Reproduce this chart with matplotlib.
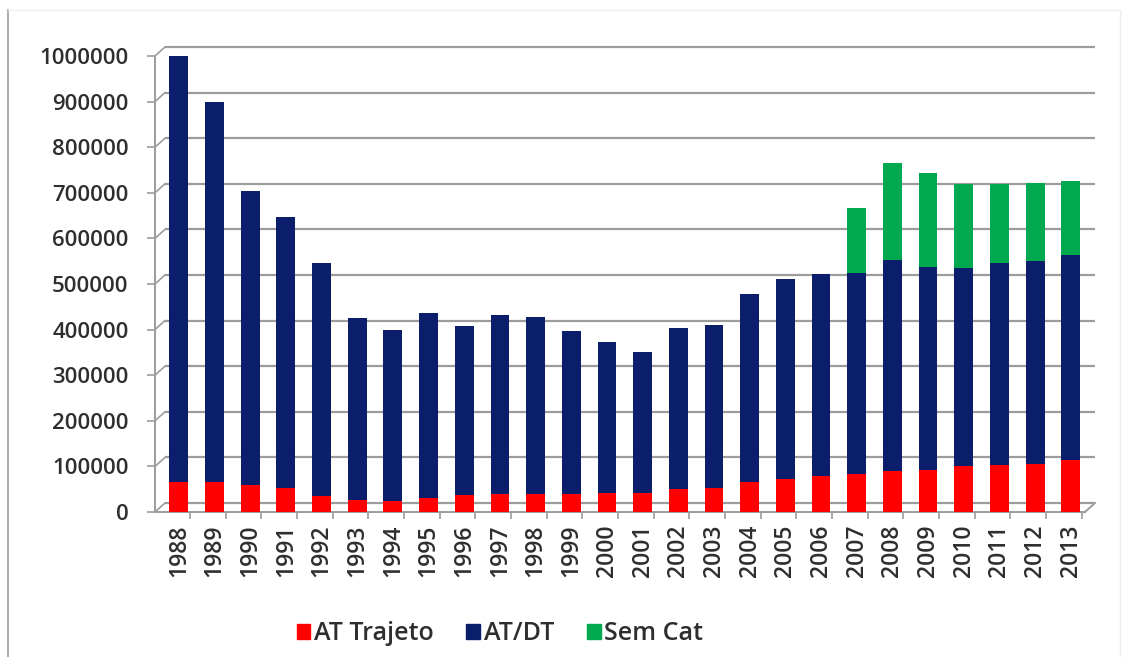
import matplotlib
matplotlib.use("Agg")
import matplotlib.pyplot as plt
from matplotlib.patches import Rectangle
from matplotlib.lines import Line2D
import numpy as np

years = [str(y) for y in range(1988, 2014)]
at_trajeto = [65000, 65000, 60000, 53000, 36000, 26000, 25000, 31000, 38000, 40000,
              39000, 40000, 42000, 42000, 50000, 53000, 65000, 73000, 78000, 83000,
              91000, 93000, 100000, 103000, 106000, 113000]
totals_atdt = [1000000, 900000, 704000, 646000, 547000, 425000, 400000, 436000, 408000, 433000,
               427000, 398000, 373000, 350000, 404000, 410000, 477000, 510000, 522000, 524000,
               553000, 538000, 535000, 545000, 550000, 563000]
totals_all = [1000000, 900000, 704000, 646000, 547000, 425000, 400000, 436000, 408000, 433000,
              427000, 398000, 373000, 350000, 404000, 410000, 477000, 510000, 522000, 667000,
              765000, 743000, 720000, 720000, 722000, 725000]
at_dt = [t - r for t, r in zip(totals_atdt, at_trajeto)]
sem_cat = [a - b for a, b in zip(totals_all, totals_atdt)]
yticks = list(range(0, 1000001, 100000))

RED = "#FF0000"
NAVY = "#0B1E6B"
GREEN = "#00A84F"
TXT = "#2e2e2e"
GRID = "#9c9c9c"

W, H = 1131, 657
fig = plt.figure(figsize=(W / 100, H / 100), dpi=100)
fig.patch.set_facecolor("white")
plt.rcParams["font.family"] = ["Open Sans", "DejaVu Sans"]
plt.rcParams["font.weight"] = "semibold"

# chart border
fig.add_artist(Line2D([8 / W, 8 / W], [0, 1 - 10 / H], color="#b0b0b0", lw=1.5))
fig.add_artist(Line2D([8 / W, 1120 / W], [1 - 10 / H, 1 - 10 / H], color="#eeeeee", lw=1))
fig.add_artist(Line2D([1120 / W, 1120 / W], [0, 1 - 10 / H], color="#eeeeee", lw=1))

x0, x1, y0, y1 = 155, 1085, 512, 56
ax = fig.add_axes([x0 / W, 1 - y0 / H, (x1 - x0) / W, (y0 - y1) / H])
ax.set_facecolor("none")

n = len(years)
x = np.arange(n)
xmin, xmax = -0.67, n - 0.6
ax.set_xlim(xmin, xmax)
ax.set_ylim(0, 1000000)

# 3D-like offsets (in data units)
px_x = (xmax - xmin) / (x1 - x0)
px_y = 1000000 / (y0 - y1)
dx, dy = 10 * px_x, 9 * px_y

for v in yticks:
    ax.plot([xmin + dx, xmax + dx], [v + dy, v + dy], color=GRID, lw=1.6,
            zorder=0, clip_on=False, solid_capstyle="butt")
    ax.plot([xmin, xmin + dx], [v, v + dy], color=GRID, lw=1.2, zorder=0, clip_on=False)
# floor
ax.plot([xmin, xmax], [0, 0], color=GRID, lw=1.4, zorder=0.5, clip_on=False)
ax.plot([xmax, xmax + dx], [0, dy], color=GRID, lw=1.4, zorder=0.5, clip_on=False)

bw = 0.53
ax.bar(x, at_trajeto, width=bw, color=RED, zorder=2, clip_on=False)
ax.bar(x, at_dt, width=bw, bottom=at_trajeto, color=NAVY, zorder=2, clip_on=False)
ax.bar(x, sem_cat, width=bw, bottom=totals_atdt, color=GREEN, zorder=2, clip_on=False)

for s in ["top", "right", "bottom"]:
    ax.spines[s].set_visible(False)
ax.spines["left"].set_color(GRID)
ax.spines["left"].set_linewidth(1.4)

ax.set_yticks(yticks)
ax.set_yticklabels([str(v) for v in yticks])
ax.tick_params(axis="y", length=6, width=1.2, color=GRID, pad=13,
               labelsize=16, labelcolor=TXT)
ax.set_xticks(x)
ax.set_xticklabels(years, rotation=90)
ax.tick_params(axis="x", length=0, pad=9, labelsize=16.5, labelcolor=TXT)
ax.set_xticks(x + 0.31, minor=True)
ax.tick_params(axis="x", which="minor", length=5, width=1.2, color=GRID)

handles = [Rectangle((0, 0), 1, 1, color=c) for c in (RED, NAVY, GREEN)]
fig.legend(handles, ["AT Trajeto", "AT/DT", "Sem Cat"], loc="center",
           bbox_to_anchor=(500 / W, 1 - 634 / H), ncol=3, frameon=False,
           fontsize=18, labelcolor=TXT, handlelength=0.55, handleheight=0.55,
           handletextpad=0.15, columnspacing=1.3)

fig.savefig("out.png", dpi=100, facecolor="white")
